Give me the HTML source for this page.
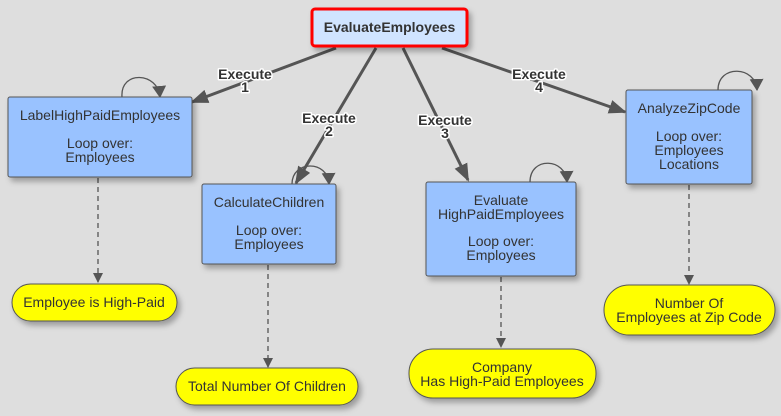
<!DOCTYPE html>
<html><head><style>
html,body{margin:0;background:#dedede;width:781px;height:416px;overflow:hidden;}
svg{display:block;}
svg text{font-family:"Liberation Sans",Arial,sans-serif;}
.n{font-size:14px;fill:#333;text-anchor:middle;}
.l{font-size:14px;font-weight:bold;fill:#333;text-anchor:middle;stroke:#fff;stroke-width:3px;paint-order:stroke;stroke-linejoin:round;}
</style></head><body>
<svg width="781" height="416" viewBox="0 0 781 416" xmlns="http://www.w3.org/2000/svg">
<defs>
<marker id="a" markerWidth="10" markerHeight="10" refX="9" refY="5" orient="auto" markerUnits="userSpaceOnUse"><path d="M0,0 L10,5 L0,10 Z" fill="#555"/></marker>
<marker id="c" markerWidth="12" markerHeight="14" refX="11" refY="7" orient="auto" markerUnits="userSpaceOnUse"><path d="M0,0 L12,7 L0,14 Z" fill="#555"/></marker>
<marker id="b" markerWidth="18" markerHeight="14" refX="16" refY="7" orient="auto" markerUnits="userSpaceOnUse"><path d="M0,0 L18,7 L0,14 Z" fill="#555"/></marker>
<filter id="s" x="-10%" y="-10%" width="130%" height="140%"><feDropShadow dx="3" dy="4" stdDeviation="3" flood-color="#000" flood-opacity="0.3"/></filter>
</defs>
<g stroke="#555" stroke-width="3" fill="none" marker-end="url(#b)">
<line x1="336" y1="48" x2="192" y2="102"/>
<line x1="376" y1="48" x2="296" y2="183"/>
<line x1="403" y1="48" x2="468" y2="180"/>
<line x1="442" y1="48" x2="625" y2="112"/>
</g>
<g stroke="#555" stroke-width="1.3" fill="none" stroke-dasharray="5,4" marker-end="url(#a)">
<line x1="98" y1="178" x2="98" y2="282"/>
<line x1="268" y1="265" x2="268" y2="367"/>
<line x1="501" y1="277" x2="501" y2="347"/>
<line x1="689" y1="185" x2="689" y2="284"/>
</g>
<g stroke="#555" stroke-width="1.3" fill="none" marker-end="url(#c)">
<path d="M122,97 C120,70 158,72 160,97"/>
<path d="M292,184 C292,160 328,160 329,184"/>
<path d="M530,182 C530,156 566,158 567,182"/>
<path d="M718,90 C718,64 756,66 757,90"/>
</g>
<g filter="url(#s)" stroke="#555" stroke-width="1">
<rect x="8" y="97" width="184" height="80" rx="2" fill="#99c2ff"/>
<rect x="202" y="184" width="134" height="80" rx="2" fill="#99c2ff"/>
<rect x="426" y="182" width="150" height="94" rx="2" fill="#99c2ff"/>
<rect x="626" y="90" width="126" height="94" rx="2" fill="#99c2ff"/>
<rect x="12" y="284" width="165" height="37" rx="18.5" fill="#ffff00"/>
<rect x="176" y="368" width="182" height="37" rx="18.5" fill="#ffff00"/>
<rect x="409" y="349" width="187" height="49" rx="24" fill="#ffff00"/>
<rect x="604" y="285" width="171" height="50" rx="25" fill="#ffff00"/>
</g>
<rect x="312" y="9" width="155" height="37" rx="3" fill="#d0e4ff" stroke="#ff0000" stroke-width="3" filter="url(#s)"/>
<text x="389.5" y="32" class="n" style="font-weight:bold">EvaluateEmployees</text>
<text class="n" x="100" y="120">LabelHighPaidEmployees</text>
<text class="n" x="100" y="148">Loop over:</text>
<text class="n" x="100" y="162">Employees</text>
<text class="n" x="269" y="207">CalculateChildren</text>
<text class="n" x="269" y="235">Loop over:</text>
<text class="n" x="269" y="249">Employees</text>
<text class="n" x="501" y="205">Evaluate</text>
<text class="n" x="501" y="219">HighPaidEmployees</text>
<text class="n" x="501" y="246">Loop over:</text>
<text class="n" x="501" y="260">Employees</text>
<text class="n" x="689" y="113">AnalyzeZipCode</text>
<text class="n" x="689" y="141">Loop over:</text>
<text class="n" x="689" y="155">Employees</text>
<text class="n" x="689" y="169">Locations</text>
<text class="n" x="94" y="307">Employee is High-Paid</text>
<text class="n" x="267" y="391">Total Number Of Children</text>
<text class="n" x="502" y="372">Company</text>
<text class="n" x="502" y="386">Has High-Paid Employees</text>
<text class="n" x="689" y="308">Number Of</text>
<text class="n" x="689" y="322">Employees at Zip Code</text>
<text class="l" x="245" y="79">Execute</text><text class="l" x="245" y="92">1</text>
<text class="l" x="329" y="123">Execute</text><text class="l" x="329" y="136">2</text>
<text class="l" x="445" y="125">Execute</text><text class="l" x="445" y="138">3</text>
<text class="l" x="539" y="79">Execute</text><text class="l" x="539" y="92">4</text>
</svg>
</body></html>
